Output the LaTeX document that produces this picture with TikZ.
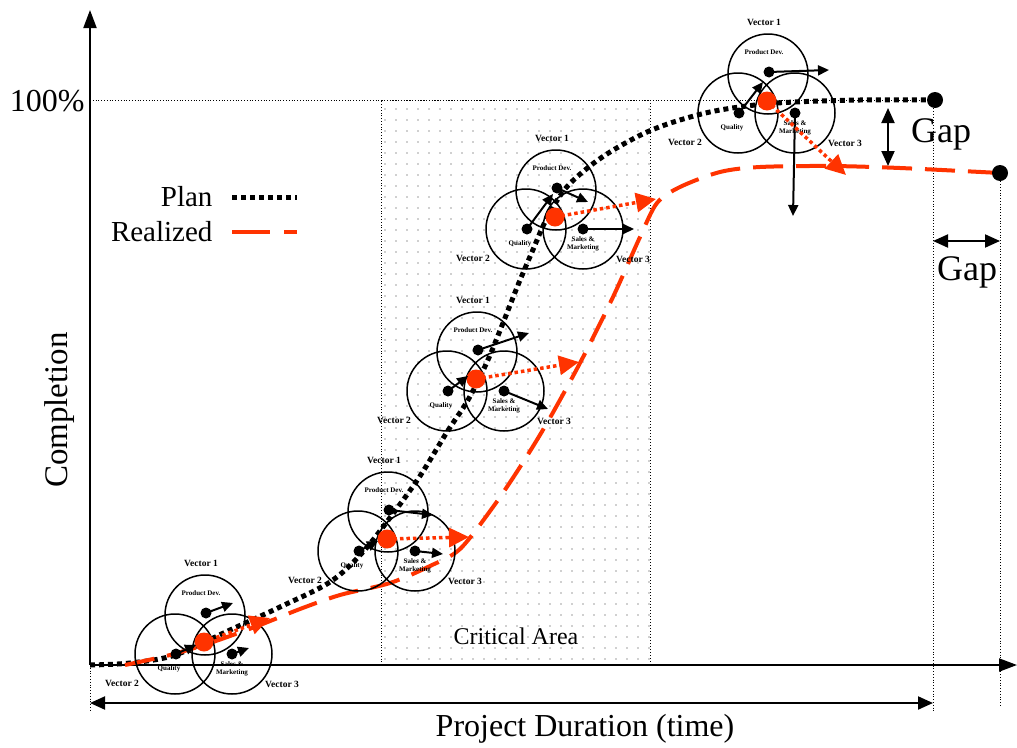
\documentclass[tikz,border=0pt]{standalone}
\usepackage{fontspec}
\setmainfont{Liberation Serif}
\usetikzlibrary{arrows.meta,patterns.meta}
\definecolor{realred}{RGB}{255,51,0}
\tikzset{
  ring/.style={draw=black, line width=1.5pt},
  bdot/.style={circle, fill=black, inner sep=0pt, minimum size=11pt},
  rdot/.style={circle, fill=realred, inner sep=0pt, minimum size=19pt},
  enddot/.style={circle, fill=black, inner sep=0pt, minimum size=16pt},
  veclab/.style={font=\fontsize{9.5}{10}\selectfont\bfseries, inner sep=0pt},
  arealab/.style={font=\fontsize{7}{7.5}\selectfont\bfseries, inner sep=0pt, align=center},
  vecarrow/.style={line width=2pt, -{Triangle[length=11pt,width=10pt]}},
  shiftarrow/.style={realred, line width=3.5pt, dash pattern=on 3.5pt off 3pt, -{Triangle[length=20pt,width=19pt]}},
  plancurve/.style={line width=5pt, dash pattern=on 5pt off 4pt},
  realcurve/.style={realred, line width=4pt, dash pattern=on 30pt off 13pt},
  guide/.style={line width=0.8pt, dotted},
  axisline/.style={line width=2pt},
  bigtip/.style={-{Triangle[length=18pt,width=13pt]}},
  dimarrow/.style={line width=2pt, {Triangle[length=15pt,width=13pt]}-{Triangle[length=15pt,width=13pt]}},
  cluster/.pic={
    \draw[ring] (1,-27) circle[radius=40];
    \draw[ring] (-29,12) circle[radius=40];
    \draw[ring] (28,12) circle[radius=40];
    \node[veclab] at (-3,-79) {Vector 1};
    \node[veclab] at (-82,41) {Vector 2};
    \node[veclab] at (78,42) {Vector 3};
    \node[arealab] at (-3,-49) {Product Dev.};
    \node[arealab] at (-35,27) {Quality};
    \node[arealab] at (28,27) {Sales \&\\Marketing};
    \node[bdot] (-pd) at (2,-29) {};
    \node[bdot] (-q) at (-28,12) {};
    \node[bdot] (-s) at (28,12) {};
    \node[rdot] (-r) at (0,0) {};
  }
}
\begin{document}
\begin{tikzpicture}[x=1pt,y=-1pt]
\useasboundingbox (0,0) rectangle (1017,747);

% critical area
\fill[pattern={Dots[distance=11pt,radius=0.8pt]}, pattern color=gray!75] (381,100) rectangle (650,665);
\draw[guide] (381,665) -- (381,100) -- (650,100);
\draw[line width=1pt, dotted] (650,100) -- (650,665);
\node[font=\fontsize{24}{26}\selectfont] (crit) at (516,636) {Critical Area};

% guide lines
\coordinate (origin) at (90,665);
\coordinate (planend) at (935,100);
\coordinate (realend) at (1000,173);
\draw[guide] (origin) -- (90,712);
\draw[guide] (90,100) -- (planend);
\draw[guide] (933,100) -- (933,712);
\draw[guide] (1000,173) -- (1000,707);

% axes
\coordinate (ytop) at (90,10);
\coordinate (xend) at (1017,665);
\draw[axisline, bigtip] (origin) -- (ytop);
\draw[axisline, bigtip] (origin) -- (xend);
\node[font=\fontsize{32}{34}\selectfont, anchor=east] (full) at (88,101) {100\%};
\node[font=\fontsize{33}{35}\selectfont, rotate=90] (ylab) at (60,410) {Completion};

% duration
\coordinate (durL) at (90,703);
\coordinate (durR) at (933,703);
\draw[dimarrow] (durL) -- (durR);
\node[font=\fontsize{32}{34}\selectfont] (xlab) at (585,729) {Project Duration (time)};

% legend
\node[font=\fontsize{29}{31}\selectfont, anchor=east] (planlab) at (216,197) {Plan};
\node[font=\fontsize{29}{31}\selectfont, anchor=east] (reallab) at (216,232) {Realized};
\draw[line width=5pt, dash pattern=on 5pt off 4pt] (planlab.east) ++(16,0) coordinate (pl1) -- ++(65,0) coordinate (pl2);
\draw[realred, line width=4pt, dash pattern=on 38pt off 14pt] (reallab.east) ++(16,0) coordinate (rl1) -- ++(65,0) coordinate (rl2);

% curves
\draw[plancurve] plot[smooth, tension=0.55] coordinates {(origin) (130,663) (175,655) (230,630) (280,607) (330,582) (362,553) (392,515) (420,476) (447,432) (468,400) (487,362) (503,323) (518,285) (532,252) (546,220) (565,189) (590,166) (615,149) (647,132) (680,120) (720,110) (777,103) (860,100) (planend)};
\draw[realcurve] plot[smooth, tension=0.5] coordinates {(125,665) (170,655) (210,643) (260,625) (300,609) (340,595) (390,583) (430,566) (460,549) (493,507) (520,467) (547,423) (580,363) (613,297) (640,237) (657,203) (680,187) (720,172) (760,167) (830,166) (900,168) (realend)};
\node[enddot] (pdot) at (planend) {};
\node[enddot] (rdotend) at (realend) {};

% gaps
\coordinate (gapT) at (888,108);
\coordinate (gapB) at (888,166);
\draw[dimarrow] (gapT) -- (gapB);
\node[font=\fontsize{36}{38}\selectfont] (gap1) at (941,134) {Gap};
\coordinate (gapL) at (933,241);
\coordinate (gapR) at (1000,241);
\draw[dimarrow] (gapL) -- (gapR);
\node[font=\fontsize{36}{38}\selectfont] (gap2) at (967,272) {Gap};

% clusters
\pic (c1) at (204,642) {cluster};
\pic (c2) at (387,539) {cluster};
\pic (c3) at (476,379) {cluster};
\pic (c4) at (555,217) {cluster};
\pic (c5) at (767,101) {cluster};

% cluster 1
\coordinate (c1-pdt) at (233,603);
\coordinate (c1-qt) at (196,645);
\coordinate (c1-st) at (249,648);
\coordinate (c1-rt) at (270,618);
\draw[vecarrow] (c1-pd.center) -- (c1-pdt);
\draw[vecarrow] (c1-q.center) -- (c1-qt);
\draw[vecarrow] (c1-s.center) -- (c1-st);
\draw[shiftarrow] (c1-r.center) -- (c1-rt);

% cluster 2
\coordinate (c2-pdt) at (433,515);
\coordinate (c2-qt) at (378,541);
\coordinate (c2-st) at (443,554);
\coordinate (c2-rt) at (469,537);
\draw[vecarrow] (c2-pd.center) -- (c2-pdt);
\draw[vecarrow] (c2-q.center) -- (c2-qt);
\draw[vecarrow] (c2-s.center) -- (c2-st);
\draw[shiftarrow] (c2-r.center) -- (c2-rt);

% cluster 3
\coordinate (c3-pdt) at (529,333);
\coordinate (c3-qt) at (468,376);
\coordinate (c3-st) at (548,409);
\coordinate (c3-rt) at (579,362);
\draw[vecarrow] (c3-pd.center) -- (c3-pdt);
\draw[vecarrow] (c3-q.center) -- (c3-qt);
\draw[vecarrow] (c3-s.center) -- (c3-st);
\draw[shiftarrow] (c3-r.center) -- (c3-rt);

% cluster 4
\coordinate (c4-pdt) at (588,202);
\coordinate (c4-qt) at (553,194);
\coordinate (c4-st) at (634,229);
\coordinate (c4-rt) at (656,199);
\draw[vecarrow] (c4-pd.center) -- (c4-pdt);
\draw[vecarrow] (c4-q.center) -- (c4-qt);
\draw[vecarrow] (c4-s.center) -- (c4-st);
\draw[shiftarrow] (c4-r.center) -- (c4-rt);

% cluster 5
\coordinate (c5-pdt) at (829,70);
\coordinate (c5-qt) at (763,82);
\coordinate (c5-st) at (793,216);
\coordinate (c5-rt) at (846,175);
\draw[vecarrow] (c5-pd.center) -- (c5-pdt);
\draw[vecarrow] (c5-q.center) -- (c5-qt);
\draw[vecarrow] (c5-s.center) -- (c5-st);
\draw[shiftarrow] (c5-r.center) -- (c5-rt);
\end{tikzpicture}
\end{document}
